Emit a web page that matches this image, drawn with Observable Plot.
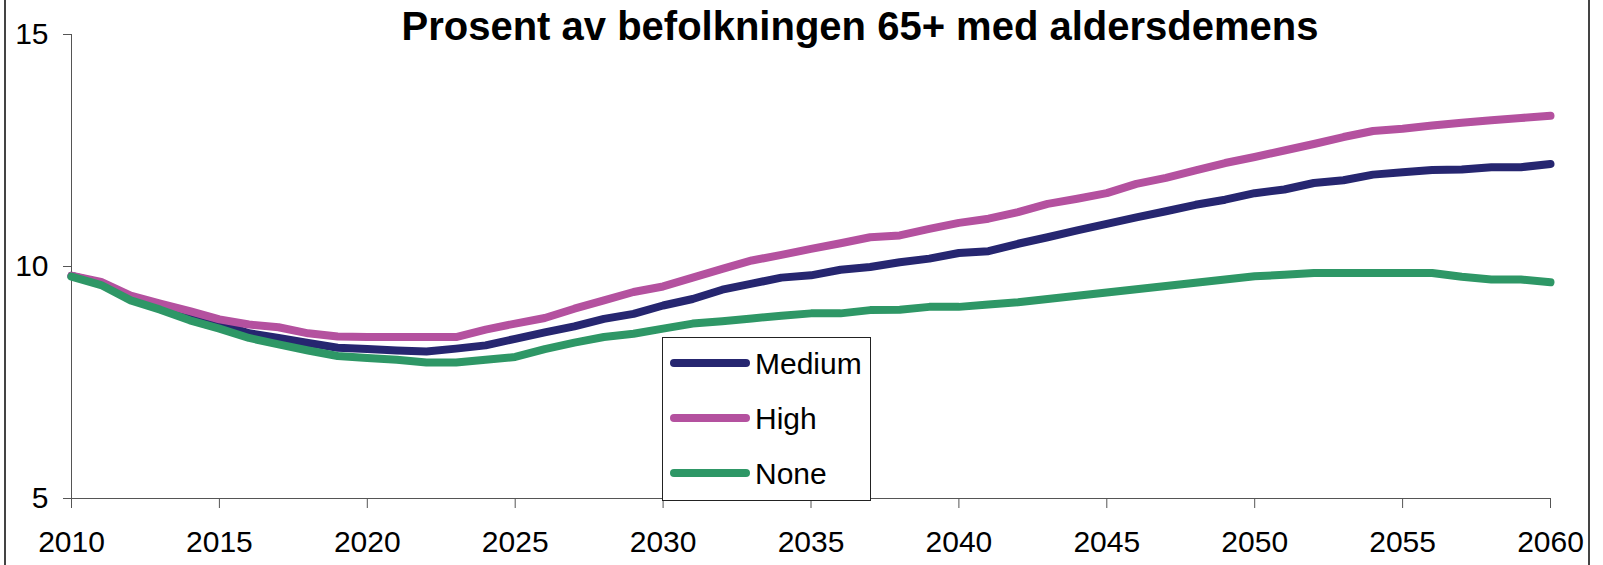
<!DOCTYPE html>
<html>
<head>
<meta charset="utf-8">
<script src="https://cdn.jsdelivr.net/npm/d3@7"></script>
<script src="https://cdn.jsdelivr.net/npm/@observablehq/plot@0.6"></script>
<style>
  html, body { margin: 0; padding: 0; background: #fff; }
  #wrap { position: relative; width: 1603px; height: 565px; overflow: hidden; font-family: "Liberation Sans", Arial, sans-serif; }
  #frame { position: absolute; left: 4px; top: -2px; width: 1582px; height: 569px; border-left: 2px solid #444; border-right: 2px solid #444; pointer-events: none; }
  #title { position: absolute; top: 6px; left: 860px; transform: translateX(-50%); white-space: nowrap; font-weight: bold; font-size: 40px; line-height: 40px; color: #000; }
  #legend { position: absolute; left: 662px; top: 337px; width: 207px; height: 162px; border: 1px solid #222; background: #fff; }
  #legend svg { display: block; }
</style>
</head>
<body>
<div id="wrap">
  <div id="chart"></div>
  <div id="frame"></div>
  <div id="title"></div>
  <div id="legend"></div>
</div>
<script>
const titleText = "Prosent av befolkningen 65+ med aldersdemens";
const years = [2010,2011,2012,2013,2014,2015,2016,2017,2018,2019,2020,2021,2022,2023,2024,2025,2026,2027,2028,2029,2030,2031,2032,2033,2034,2035,2036,2037,2038,2039,2040,2041,2042,2043,2044,2045,2046,2047,2048,2049,2050,2051,2052,2053,2054,2055,2056,2057,2058,2059,2060];
const medium = [9.80,9.64,9.32,9.13,8.94,8.77,8.56,8.46,8.35,8.25,8.22,8.19,8.17,8.23,8.30,8.44,8.58,8.71,8.87,8.98,9.16,9.30,9.50,9.63,9.76,9.81,9.93,9.99,10.09,10.17,10.29,10.33,10.49,10.63,10.78,10.92,11.06,11.19,11.33,11.44,11.58,11.66,11.80,11.86,11.98,12.03,12.08,12.09,12.14,12.14,12.21];
const high = [9.80,9.67,9.37,9.20,9.04,8.86,8.75,8.69,8.56,8.49,8.48,8.48,8.48,8.48,8.64,8.77,8.89,9.09,9.27,9.45,9.57,9.76,9.95,10.13,10.25,10.38,10.50,10.63,10.67,10.81,10.94,11.03,11.17,11.35,11.46,11.58,11.78,11.91,12.07,12.23,12.36,12.50,12.64,12.79,12.92,12.97,13.04,13.10,13.15,13.20,13.25];
const none = [9.78,9.60,9.27,9.07,8.84,8.66,8.46,8.32,8.19,8.07,8.03,7.99,7.93,7.93,7.99,8.05,8.22,8.36,8.48,8.55,8.66,8.77,8.82,8.88,8.94,8.99,8.99,9.06,9.07,9.13,9.13,9.18,9.23,9.30,9.37,9.44,9.51,9.58,9.65,9.72,9.79,9.82,9.86,9.86,9.86,9.86,9.86,9.78,9.72,9.72,9.66];
const seriesNames = ["Medium", "High", "None"];
const seriesColors = ["#262670", "#b4519f", "#2e9766"];
const xTicks = [2010,2015,2020,2025,2030,2035,2040,2045,2050,2055,2060];
const yTicks = [5,10,15];

const seriesValues = [medium, high, none];
const data = [];
seriesNames.forEach((name, i) => {
  years.forEach((yr, j) => data.push({series: name, year: yr, value: seriesValues[i][j]}));
});

const chart = Plot.plot({
  width: 1603,
  height: 565,
  marginLeft: 71,
  marginRight: 53,
  marginTop: 34,
  marginBottom: 67,
  style: { fontFamily: '"Liberation Sans", Arial, sans-serif', background: "transparent", color: "#000" },
  x: { domain: [2010, 2060] },
  y: { domain: [5, 15] },
  color: { domain: seriesNames, range: seriesColors },
  marks: [
    Plot.ruleX([2010], { stroke: "#555", strokeWidth: 1 }),
    Plot.ruleY([5], { stroke: "#555", strokeWidth: 1 }),
    Plot.axisY({ ticks: yTicks, tickSize: 8, tickPadding: 15, fontSize: 30, label: null, stroke: "#555", fill: "#000" }),
    Plot.axisX({ ticks: xTicks, tickSize: 10, tickPadding: 22, fontSize: 30, label: null, stroke: "#555", fill: "#000", tickFormat: d => String(d) }),
    Plot.line(data, { x: "year", y: "value", z: "series", stroke: "series", strokeWidth: 8, strokeLinecap: "round", strokeLinejoin: "round" })
  ]
});
document.getElementById("chart").appendChild(chart);
document.getElementById("title").textContent = titleText;

// legend
const lg = d3.select("#legend").append("svg").attr("width", 207).attr("height", 162);
const rows = lg.selectAll("g").data(seriesNames).join("g")
  .attr("transform", (d, i) => `translate(0, ${25 + i * 55})`);
rows.append("line").attr("x1", 11).attr("x2", 83).attr("y1", 0).attr("y2", 0)
  .attr("stroke", (d, i) => seriesColors[i]).attr("stroke-width", 8).attr("stroke-linecap", "round");
rows.append("text").attr("x", 92).attr("y", 0).attr("dy", "0.36em")
  .attr("font-size", 30).attr("font-family", '"Liberation Sans", Arial, sans-serif').attr("fill", "#000")
  .text(d => d);
</script>
</body>
</html>
